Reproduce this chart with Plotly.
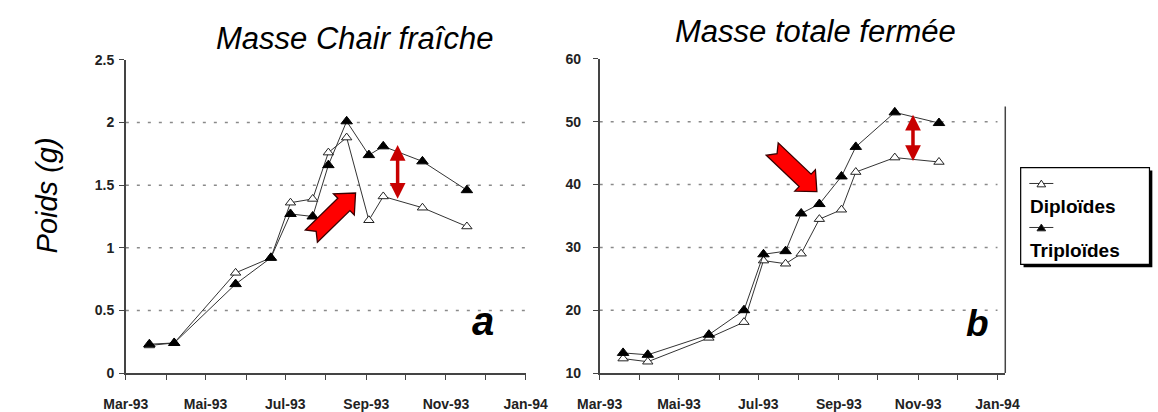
import math
import plotly.graph_objects as go

W, H = 1158, 412

# ---------------- data ----------------
dates = ["1993-03-19", "1993-04-07", "1993-05-24", "1993-06-20", "1993-07-05", "1993-07-22",
         "1993-08-03", "1993-08-17", "1993-09-03", "1993-09-14", "1993-10-14", "1993-11-17"]
chair_diploides = [0.22, 0.24, 0.80, 0.92, 1.36, 1.39, 1.76, 1.88, 1.22, 1.41, 1.32, 1.17]
chair_triploides = [0.23, 0.24, 0.71, 0.92, 1.27, 1.25, 1.66, 2.01, 1.74, 1.81, 1.69, 1.46]
totale_diploides = [12.3, 11.8, 15.6, 18.1, 27.9, 27.4, 29.0, 34.5, 36.0, 42.0, 44.3, 43.6]
totale_triploides = [13.2, 12.9, 16.1, 20.0, 28.9, 29.4, 35.4, 36.9, 41.3, 46.0, 51.5, 49.8]
month_tickvals = ["1993-03-01", "1993-05-01", "1993-07-01", "1993-09-01", "1993-11-01", "1994-01-01"]
month_ticktext = ["Mar-93", "Mai-93", "Jul-93", "Sep-93", "Nov-93", "Jan-94"]
chair_ticks = [0, 0.5, 1, 1.5, 2, 2.5]
totale_ticks = [10, 20, 30, 40, 50, 60]
series_names = ["Diploïdes", "Triploïdes"]
titles = ["Masse Chair fraîche", "Masse totale fermée"]
# double-arrow gap markers (date, top, bottom)
gap_chair = ("1993-09-25", 1.82, 1.38)
gap_totale = ("1993-10-28", 51.1, 43.5)

FONT = "Arial, Liberation Sans, sans-serif"
LINE = "#333333"


def px(x):
    return x / W


def py(y):
    return 1 - y / H


fig = go.Figure()

for xa, ya, dip, trip in [("x", "y", chair_diploides, chair_triploides),
                          ("x2", "y2", totale_diploides, totale_triploides)]:
    fig.add_trace(go.Scatter(x=dates, y=dip, name=series_names[0], xaxis=xa, yaxis=ya,
                             mode="lines+markers", showlegend=False,
                             line=dict(color=LINE, width=1),
                             marker=dict(symbol="triangle-up", size=9, color="white",
                                         line=dict(color="#222", width=1))))
    fig.add_trace(go.Scatter(x=dates, y=trip, name=series_names[1], xaxis=xa, yaxis=ya,
                             mode="lines+markers", showlegend=False,
                             line=dict(color=LINE, width=1),
                             marker=dict(symbol="triangle-up", size=10, color="black",
                                         line=dict(color="black", width=1))))

tickfont = dict(family=FONT, size=14, color="#222", weight="bold")
xcommon = dict(type="date", tickvals=month_tickvals, ticktext=month_ticktext,
               ticks="outside", ticklen=5, tickcolor="#444", tickwidth=1.2,
               showline=True, linecolor="#444", linewidth=1.5, showgrid=False,
               zeroline=False, tickfont=tickfont, ticklabelstandoff=12,
               minor=dict(ticks="outside", ticklen=5, dtick="M1", tick0="1993-03-01",
                          tickcolor="#444", tickwidth=1.2, showgrid=False))
ycommon = dict(ticks="outside", ticklen=5, tickcolor="#444", tickwidth=1.2,
               showline=True, linecolor="#444", linewidth=1.5, showgrid=False,
               zeroline=False, tickfont=tickfont)

fig.update_layout(
    width=W, height=H, margin=dict(l=0, r=0, t=0, b=0),
    paper_bgcolor="white", plot_bgcolor="white", showlegend=False,
    xaxis=dict(domain=[px(107), px(523)], anchor="y",
               range=["1993-03-01", "1994-01-01"], **xcommon),
    yaxis=dict(domain=[py(381.7), py(54.3)], anchor="x", range=[0, 2.5],
               tickvals=chair_ticks, ticklabelstandoff=2, **ycommon),
    xaxis2=dict(domain=[px(600), px(1022)], anchor="y2",
                range=["1993-03-01", "1994-01-07"], **xcommon),
    yaxis2=dict(domain=[py(381.7), py(53.3)], anchor="x2", range=[10, 60],
                tickvals=totale_ticks, ticklabelstandoff=9, **ycommon),
)

shapes = []
# dotted grid lines (not at the axis nor at the top)
for v in chair_ticks[1:-1]:
    shapes.append(dict(type="line", xref="x", yref="y", x0=month_tickvals[0], x1=month_tickvals[-1],
                       y0=v, y1=v, layer="below", line=dict(color="#8a8a8a", width=1.5, dash="3px,8px")))
for v in totale_ticks[1:-1]:
    shapes.append(dict(type="line", xref="x2", yref="y2", x0=month_tickvals[0], x1=month_tickvals[-1],
                       y0=v, y1=v, layer="below", line=dict(color="#8a8a8a", width=1.5, dash="3px,8px")))

# right plot-area border of the second chart
shapes.append(dict(type="line", xref="paper", yref="paper", x0=px(1022), x1=px(1022),
                   y0=py(103), y1=py(381.7), line=dict(color="#444", width=1.5)))


def block_arrow(tail, tip, shaft_w, head_w, head_len, notch):
    tx, ty = tail
    hx, hy = tip
    dx, dy = hx - tx, hy - ty
    L = math.hypot(dx, dy)
    ux, uy = dx / L, dy / L
    pxv, pyv = -uy, ux
    bx, by = hx - ux * head_len, hy - uy * head_len
    pts = [
        (tx + pxv * shaft_w / 2, ty + pyv * shaft_w / 2),
        (bx + pxv * shaft_w / 2, by + pyv * shaft_w / 2),
        (bx + pxv * head_w / 2, by + pyv * head_w / 2),
        (hx, hy),
        (bx - pxv * head_w / 2, by - pyv * head_w / 2),
        (bx - pxv * shaft_w / 2, by - pyv * shaft_w / 2),
        (tx - pxv * shaft_w / 2, ty - pyv * shaft_w / 2),
        (tx + ux * notch, ty + uy * notch),
    ]
    return "M " + " L ".join(f"{px(x):.5f},{py(y):.5f}" for x, y in pts) + " Z"


for tail, tip in [((300, 238.5), (346, 193.5)), ((779.5, 147.5), (826, 192))]:
    shapes.append(dict(type="path", xref="paper", yref="paper",
                       path=block_arrow(tail, tip, 18, 31, 17, 7),
                       fillcolor="#ff0000", line=dict(color="#3a0000", width=1.3)))

# legend box with shadow
shapes.append(dict(type="rect", xref="paper", yref="paper", x0=px(1041), x1=px(1175),
                   y0=py(271), y1=py(170), fillcolor="black", line=dict(width=0)))
shapes.append(dict(type="rect", xref="paper", yref="paper", x0=px(1038), x1=px(1172),
                   y0=py(268), y1=py(167), fillcolor="white", line=dict(color="black", width=1.2)))


def tri(cx, cy, w, h, filled):
    p = [(cx - w / 2, cy + h / 2), (cx + w / 2, cy + h / 2), (cx, cy - h / 2)]
    return dict(type="path", xref="paper", yref="paper",
                path="M " + " L ".join(f"{px(x):.5f},{py(y):.5f}" for x, y in p) + " Z",
                fillcolor="black" if filled else "white", line=dict(color="#222", width=1))


for ysamp, filled in [(183.5, False), (229.5, True)]:
    shapes.append(dict(type="line", xref="paper", yref="paper", x0=px(1047), x1=px(1072),
                       y0=py(ysamp), y1=py(ysamp), line=dict(color=LINE, width=1)))
    shapes.append(tri(1059.5, ysamp, 9, 7, filled))

fig.update_layout(shapes=shapes)


def text_ann(text, x, y, size, xanchor="center", angle=0):
    return dict(text=text, x=px(x), y=py(y), xref="paper", yref="paper",
                xanchor=xanchor, yanchor="middle", textangle=angle, showarrow=False,
                font=dict(family=FONT, size=size, color="black"))


ann = [
    text_ann("<i>" + titles[0] + "</i>", 345, 32, 31),
    text_ann("<i>" + titles[1] + "</i>", 825, 25, 31),
    text_ann("<i>Poids (g)</i>", 25, 196, 29, angle=-90),
    text_ann("<b><i>a</i></b>", 479, 327, 40),
    text_ann("<b><i>b</i></b>", 993, 330, 37),
    text_ann("<b>" + series_names[0] + "</b>", 1046, 208, 19, xanchor="left"),
    text_ann("<b>" + series_names[1] + "</b>", 1046, 254, 19, xanchor="left"),
]

for (d, top, bot), xr, yr in [(gap_chair, "x", "y"), (gap_totale, "x2", "y2")]:
    ann.append(dict(text="", x=d, y=top, ax=d, ay=bot, xref=xr, yref=yr, axref=xr, ayref=yr,
                    showarrow=True, arrowhead=2, startarrowhead=2, arrowside="end+start",
                    arrowwidth=3.5, arrowsize=0.9, startarrowsize=0.9, arrowcolor="#c80000",
                    standoff=0, startstandoff=0))

fig.update_layout(annotations=ann)

fig.write_html("out.html")
